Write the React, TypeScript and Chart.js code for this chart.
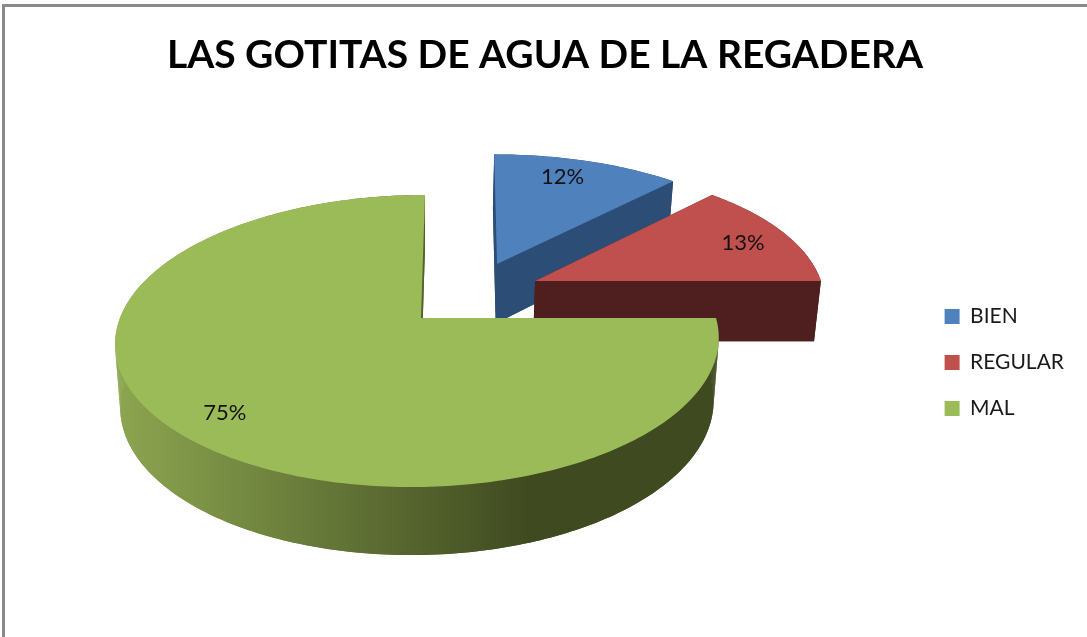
import React, { useEffect, useRef } from "react";
import { Chart, registerables } from "chart.js";

Chart.register(...registerables);

const categories = ["BIEN", "REGULAR", "MAL"];
const percentages = [12, 13, 75];
const chartTitle = "LAS GOTITAS DE AGUA DE LA REGADERA";
const topColors = ["#4F81BD", "#C0504D", "#9BBB59"];
const wallColors = ["#2C4D75", "#4F1F1F", "#3F4A20"];

// Exploded slice geometry in disc units (u right, v toward viewer)
const explode = [
  { u: 0.272, v: -0.403, apexU: 0, stretch: 1.03, skew: 0 },
  { u: 0.403, v: -0.271, apexU: 0, stretch: 1, skew: 9.6 },
  { u: 0, v: 0, apexU: 0.01, stretch: 1, skew: 0 },
];
const labelNudge: [number, number][] = [
  [-8, -1],
  [3, 3],
  [1, 4],
];

const CX = 418;
const CY = 318;
const RX = 298;
const RY = 142.4;
const K = 0.1575;
const SHEAR = 7;
const DEPTH_BASE = 62;
const DEPTH_SLOPE = 6;
const BOTTOM_SCALE = 0.983;
const LABEL_RADIUS = 0.82;
const LEGEND_SHIFT = 31;

type Pt = [number, number];
type Slice = (typeof explode)[number];

function project(u: number, v: number, lower: boolean, s: Slice): Pt {
  const w = 1 - K * v;
  let x = CX + (RX * u) / w - SHEAR * v - s.skew * (v - s.v);
  let y = CY + (RY * v) / w;
  if (lower) {
    x = CX + (x - CX) * BOTTOM_SCALE;
    y += DEPTH_BASE + DEPTH_SLOPE * v;
  }
  return [x, y];
}

function outline(start: number, end: number, s: Slice) {
  const pts: [number, number][] = [[s.u + s.apexU, s.v]];
  const steps = Math.max(8, Math.ceil(((end - start) * 180) / Math.PI));
  for (let i = 0; i <= steps; i++) {
    const a = start + ((end - start) * i) / steps;
    pts.push([s.u + s.stretch * Math.cos(a), s.v + Math.sin(a)]);
  }
  return pts;
}

function fillPath(ctx: CanvasRenderingContext2D, pts: Pt[]) {
  ctx.beginPath();
  pts.forEach((p, i) => (i ? ctx.lineTo(p[0], p[1]) : ctx.moveTo(p[0], p[1])));
  ctx.closePath();
  ctx.fill();
}

const pie3d = {
  id: "pie3d",
  afterLayout(chart: any) {
    chart.legend.top += LEGEND_SHIFT;
    chart.legend.bottom += LEGEND_SHIFT;
  },
  beforeDraw(chart: any) {
    const { ctx, width, height } = chart;
    ctx.save();
    ctx.fillStyle = "#ffffff";
    ctx.fillRect(0, 0, width, height);
    ctx.fillStyle = "#8A8A8A";
    ctx.fillRect(2, 4, width - 2, 3);
    ctx.fillRect(2, 4, 3, height - 4);
    ctx.restore();
  },
  beforeDatasetDraw() {
    return false;
  },
  afterDatasetsDraw(chart: any) {
    const { ctx } = chart;
    const arcs = chart.getDatasetMeta(0).data;
    ctx.save();
    arcs.forEach((arc: any, i: number) => {
      const pts = outline(arc.startAngle, arc.endAngle, explode[i]);
      const upper = pts.map(([u, v]) => project(u, v, false, explode[i]));
      const lower = pts.map(([u, v]) => project(u, v, true, explode[i]));
      let wall: any = wallColors[i];
      if (i === 2) {
        const g = ctx.createLinearGradient(118, 0, 530, 0);
        g.addColorStop(0, "#8CA550");
        g.addColorStop(1, wallColors[i]);
        wall = g;
      }
      ctx.fillStyle = wall;
      fillPath(ctx, lower);
      for (let j = 0; j < pts.length; j++) {
        const n = (j + 1) % pts.length;
        fillPath(ctx, [upper[j], upper[n], lower[n], lower[j]]);
      }
      ctx.fillStyle = topColors[i];
      fillPath(ctx, upper);
    });
    ctx.fillStyle = "#111111";
    ctx.font = "22px Lato";
    ctx.textAlign = "center";
    ctx.textBaseline = "middle";
    arcs.forEach((arc: any, i: number) => {
      const mid = (arc.startAngle + arc.endAngle) / 2;
      const [x, y] = project(
        explode[i].u + LABEL_RADIUS * Math.cos(mid),
        explode[i].v + LABEL_RADIUS * Math.sin(mid),
        false,
        explode[i]
      );
      ctx.fillText(`${percentages[i]}%`, x + labelNudge[i][0], y + labelNudge[i][1]);
    });
    ctx.restore();
  },
};

export default function App() {
  const ref = useRef<HTMLCanvasElement>(null);
  useEffect(() => {
    const chart = new Chart(ref.current as HTMLCanvasElement, {
      type: "pie",
      data: {
        labels: categories,
        datasets: [{ data: percentages, backgroundColor: topColors, borderWidth: 0 }],
      },
      options: {
        animation: false,
        responsive: false,
        layout: { padding: { left: 16, right: 13, top: 26, bottom: 0 } },
        plugins: {
          tooltip: { enabled: false },
          title: {
            display: true,
            text: chartTitle,
            color: "#000000",
            font: { family: "Lato", size: 39, weight: "bold" },
            padding: { top: 6, bottom: 20 },
          },
          legend: {
            position: "right",
            labels: {
              boxWidth: 15,
              boxHeight: 15,
              padding: 25,
              color: "#1a1a1a",
              font: { family: "Lato", size: 21 },
            },
          },
        },
      },
      plugins: [pie3d],
    } as any);
    return () => chart.destroy();
  }, []);
  return (
    <div style={{ position: "absolute", left: 0, top: 0, width: 1087, height: 637, overflow: "hidden" }}>
      <canvas ref={ref} width={1087} height={637} style={{ display: "block" }} />
    </div>
  );
}
